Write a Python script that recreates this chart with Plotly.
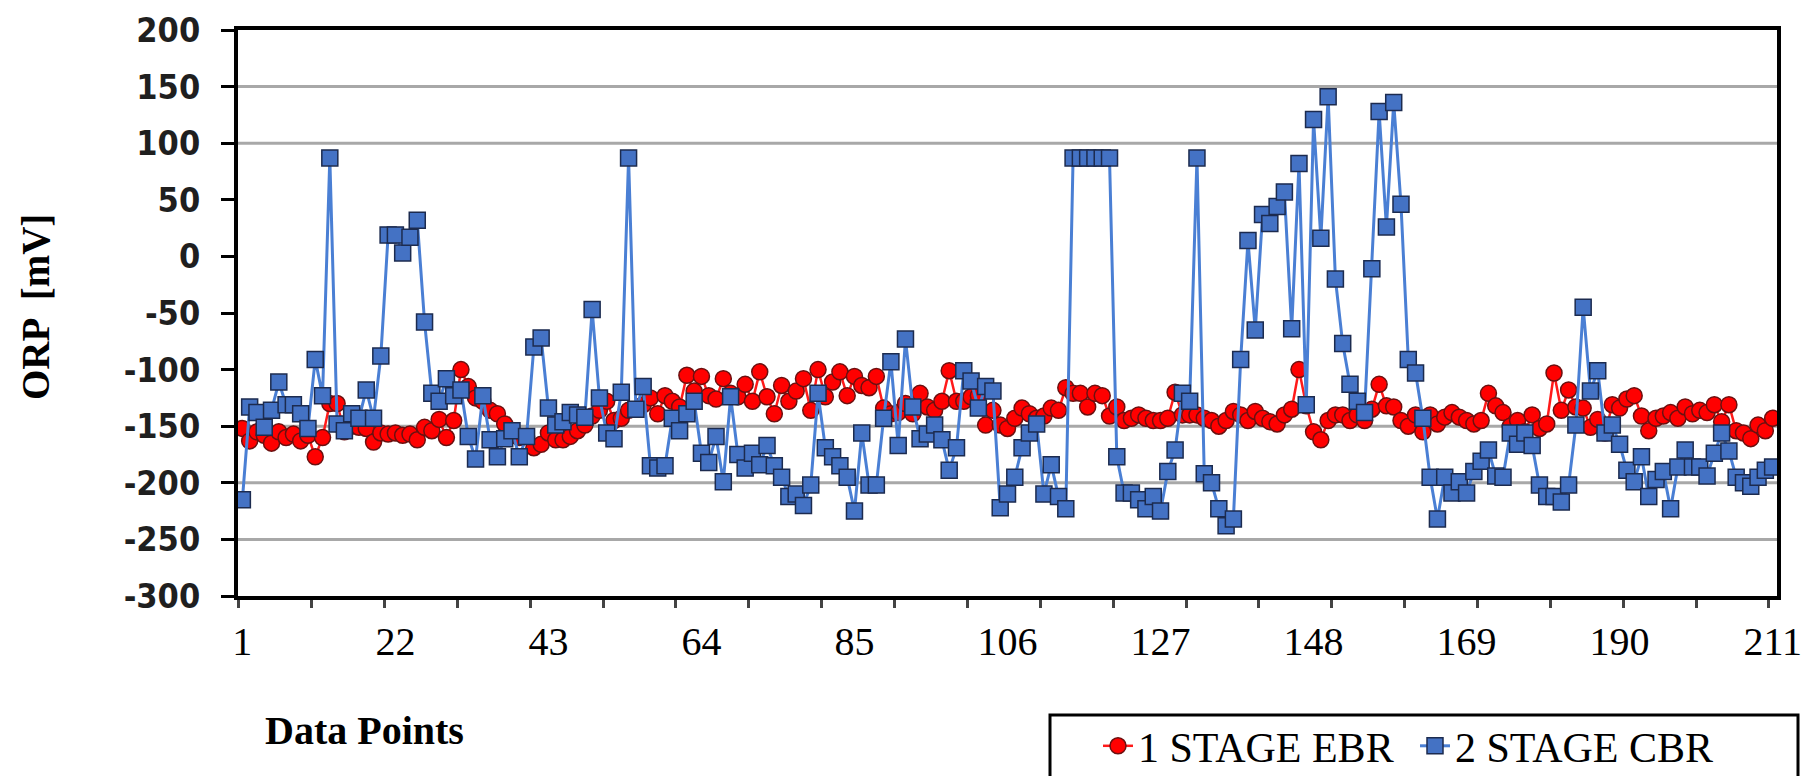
import plotly.graph_objects as go

data_points = list(range(1, 212))

ebr_1_stage = [
    -152, -163, -155, -158, -165, -155, -160, -157, -163, -158,
    -177, -160, -130, -130, -155, -150, -151, -152, -164, -156,
    -157, -156, -158, -157, -162, -151, -154, -144, -160, -145,
    -100, -115, -125, -128, -136, -139, -148, -158, -160, -159,
    -169, -166, -156, -162, -162, -159, -154, -149, -141, -136,
    -128, -145, -143, -136, -135, -131, -125, -139, -123, -128,
    -133, -105, -119, -106, -123, -126, -108, -121, -124, -113,
    -128, -102, -124, -139, -114, -128, -119, -108, -136, -100,
    -124, -111, -102, -123, -106, -114, -116, -106, -134, -139,
    -138, -130, -139, -121, -133, -136, -128, -101, -128, -128,
    -124, -123, -149, -136, -149, -152, -143, -134, -139, -143,
    -141, -134, -136, -116, -121, -121, -133, -121, -123, -141,
    -133,
    -145, -143, -140, -143, -145, -145, -143, -120, -140, -140,
    -140, -143, -145, -150, -145, -137, -140, -145, -137, -143,
    -146, -148, -140, -135, -100, -132, -155, -162, -145, -140,
    -140, -145, -140, -145, -135, -113, -132, -133, -145, -150,
    -140, -155, -140, -148, -142, -138, -142, -145, -148, -145,
    -121, -132, -138, -150, -145, -155, -140, -152, -148,
    -103, -136, -118, -133, -134, -151, -144, -156, -131, -134,
    -126, -123, -141, -154, -143, -141, -138, -143, -133, -139,
    -136, -138, -131, -146, -131, -154, -156, -161, -149, -154,
    -143,
]

cbr_2_stage = [
    -215, -133, -138, -151, -136, -111, -131, -131, -139, -152,
    -91, -123, 87, -148, -154, -139, -143, -118, -143, -88,
    19, 19, 3, 17, 32, -58, -121, -128, -108, -123,
    -118, -159, -179, -123, -162, -177, -161, -154, -177, -159,
    -80, -72, -134, -149, -146, -138, -140, -142, -47, -125,
    -156, -161, -120, 87, -135, -115, -185, -187, -185, -143,
    -154, -139, -128, -174, -182, -159, -199, -124, -175, -187,
    -174, -184, -167, -185, -195, -212, -210, -220, -202, -121,
    -169, -177, -185, -195, -225, -156, -202, -202, -143, -93,
    -167, -73, -133, -161, -157, -149, -162, -189, -169, -101,
    -110, -134, -115, -119, -222, -210, -195, -169, -156, -148,
    -210, -184, -212, -223, 87, 87, 87, 87, 87, 87,
    -177, -209, -209, -215, -223, -212, -225, -190, -171, -121,
    -128, 87, -192, -200, -223, -238, -232, -91, 14, -65,
    37, 29, 44, 57, -64, 82, -131, 121, 16, 141,
    -20, -77, -113, -128, -138, -11, 128, 26, 136, 46,
    -91, -103, -143, -195, -232, -195, -209, -199, -209, -190,
    -181, -171, -194, -195, -156, -166, -156, -167, -202, -212,
    -212, -217, -202, -149, -45, -119, -101, -156, -149, -166,
    -189, -199, -177, -212, -197, -190, -223, -186, -171, -186,
    -186, -194, -174, -156, -172, -195, -200, -203, -195, -189,
    -186,
]

x_tick_labels = [1, 22, 43, 64, 85, 106, 127, 148, 169, 190, 211]
y_tick_values = [200, 150, 100, 50, 0, -50, -100, -150, -200, -250, -300]
y_tick_text = ["200", "150", "100", "50", "0", "-50", "-100", "-150", "-200", "-250", "-300"]
grid_levels = [150, 100, -150, -200, -250]
series_names = ["1 STAGE EBR", "2 STAGE CBR"]

# plot-area geometry (px)
L, R, T, B = 238, 1777, 30, 596
PW, PH = R - L, B - T


def px(x):
    return (x - L) / PW


def py(y):
    return (B - y) / PH


fig = go.Figure()

fig.add_trace(go.Scatter(
    x=data_points, y=ebr_1_stage, name=series_names[0],
    mode="lines+markers",
    line=dict(color="#ff1a1a", width=2.5),
    marker=dict(symbol="circle", size=16, color="#ff0000",
                line=dict(color="#6b1010", width=1.5)),
))
fig.add_trace(go.Scatter(
    x=data_points, y=cbr_2_stage, name=series_names[1],
    mode="lines+markers",
    line=dict(color="#4a7fd4", width=3),
    marker=dict(symbol="square", size=16, color="#4472c4",
                line=dict(color="#1c2b4f", width=1.5)),
))

shapes = []
for g in grid_levels:
    shapes.append(dict(type="line", xref="paper", yref="y", x0=0, x1=1, y0=g, y1=g,
                       line=dict(color="#a8a8a8", width=3), layer="below"))
# legend frame
shapes.append(dict(type="rect", xref="paper", yref="paper",
                   x0=px(1050), x1=px(1798), y0=py(795), y1=py(715),
                   line=dict(color="black", width=3), fillcolor="white", layer="below"))

fig.update_layout(
    width=1814, height=776,
    margin=dict(l=L, r=1814 - R, t=T, b=776 - B, autoexpand=False),
    plot_bgcolor="white", paper_bgcolor="white",
    shapes=shapes,
    showlegend=True,
    legend=dict(orientation="h", x=px(1098), xanchor="left",
                y=py(746), yanchor="middle",
                font=dict(family="Liberation Serif", size=42, color="black"),
                bgcolor="rgba(0,0,0,0)", borderwidth=0,
                entrywidth=272, entrywidthmode="pixels", itemwidth=30),
    xaxis=dict(range=[0.4, 211.6], tickmode="array", tickvals=x_tick_labels,
               ticktext=[str(v) for v in x_tick_labels], ticks="",
               tickfont=dict(family="Liberation Serif", size=40, color="black"),
               ticklabelstandoff=7,
               showgrid=False, zeroline=False, showline=True, linewidth=4,
               linecolor="black", mirror=True,
               minor=dict(tick0=0.5, dtick=10, ticks="outside", ticklen=8,
                          tickwidth=3, tickcolor="#444", showgrid=False)),
    yaxis=dict(range=[-300, 200], tickmode="array", tickvals=y_tick_values,
               ticktext=y_tick_text,
               ticks="outside", ticklen=13, tickwidth=3, tickcolor="black",
               tickfont=dict(family="DejaVu Sans Condensed", size=34, color="#1f1f1f",
                             weight="bold"),
               ticklabelstandoff=14,
               showgrid=False, zeroline=False, showline=True, linewidth=4,
               linecolor="black", mirror=True),
    annotations=[
        dict(text="<b>ORP  [mV]</b>", xref="paper", yref="paper",
             x=px(35), y=py(307), textangle=-90,
             showarrow=False, xanchor="center", yanchor="middle",
             font=dict(family="Liberation Serif", size=39, color="black")),
        dict(text="<b>Data Points</b>", xref="paper", yref="paper",
             x=px(364), y=py(730),
             showarrow=False, xanchor="center", yanchor="middle",
             font=dict(family="Liberation Serif", size=40, color="black")),
    ],
)

fig.write_html("out.html", config={"displayModeBar": False},
               post_script="document.body.style.margin='0px';")
